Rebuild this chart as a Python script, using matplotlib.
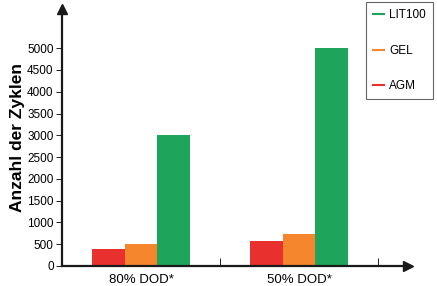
import matplotlib
matplotlib.use("Agg")
import matplotlib.pyplot as plt
import numpy as np
from matplotlib.lines import Line2D

# ── data ──────────────────────────────────────────────────────────────────────
categories = ["80% DOD*", "50% DOD*"]
series     = ["AGM", "GEL", "LIT100"]
agm        = [400, 580]
gel        = [500, 740]
lit100     = [3000, 5000]
colors     = {"AGM": "#E8302F", "GEL": "#F5862E", "LIT100": "#1FA55B"}
yticks     = list(range(0, 5001, 500))

narrow = ["Liberation Sans Narrow", "Liberation Sans", "DejaVu Sans"]

fig = plt.figure(figsize=(4.37, 2.86), dpi=100)
ax = fig.add_axes([62 / 437, 20 / 286, 346 / 437, 257 / 286])

x = np.arange(len(categories))
w = 0.205
for i, (name, vals) in enumerate(zip(series, [agm, gel, lit100])):
    ax.bar(x + (i - 1) * w, vals, width=w, color=colors[name], linewidth=0)

ax.set_xlim(-0.5, 1.69)
ax.set_ylim(0, 5900)

for s in ["top", "right"]:
    ax.spines[s].set_visible(False)
for s in ["left", "bottom"]:
    ax.spines[s].set_linewidth(1.6)
    ax.spines[s].set_color("#1a1a1a")

# axis arrows
ax.plot(1, 0, ">", color="#1a1a1a", ms=7, transform=ax.transAxes, clip_on=False)
ax.plot(0, 1, "^", color="#1a1a1a", ms=7, transform=ax.transAxes, clip_on=False)

ax.set_yticks(yticks)
ax.set_yticklabels([str(v) for v in yticks], family=narrow, fontsize=8.5)
ax.tick_params(axis="y", direction="out", length=4, width=0.6, pad=2)

ax.set_xticks(x)
ax.set_xticklabels(categories, family=narrow, fontsize=9.5)
ax.tick_params(axis="x", length=0, pad=6)
ax.set_xticks([0.5, 1.5], minor=True)
ax.tick_params(axis="x", which="minor", direction="in", length=6, width=0.6)

fig.text(18 / 437, 0.52, "Anzahl der Zyklen", rotation=90, ha="center", va="center",
         fontsize=12.5, fontweight="bold", family=["Liberation Sans", "DejaVu Sans"])

handles = [Line2D([], [], color=colors[n], lw=1.5) for n in ["LIT100", "GEL", "AGM"]]
leg = fig.legend(handles, ["LIT100", "GEL", "AGM"], loc="upper right",
                 bbox_to_anchor=(433 / 437, 1 - 2 / 286), borderaxespad=0,
                 fancybox=False, edgecolor="#666666", framealpha=1,
                 handlelength=1.0, handletextpad=0.4, labelspacing=2.0,
                 borderpad=0.6, prop={"family": narrow, "size": 8.5})
leg.get_frame().set_linewidth(0.8)

fig.savefig("out.png", dpi=100)
